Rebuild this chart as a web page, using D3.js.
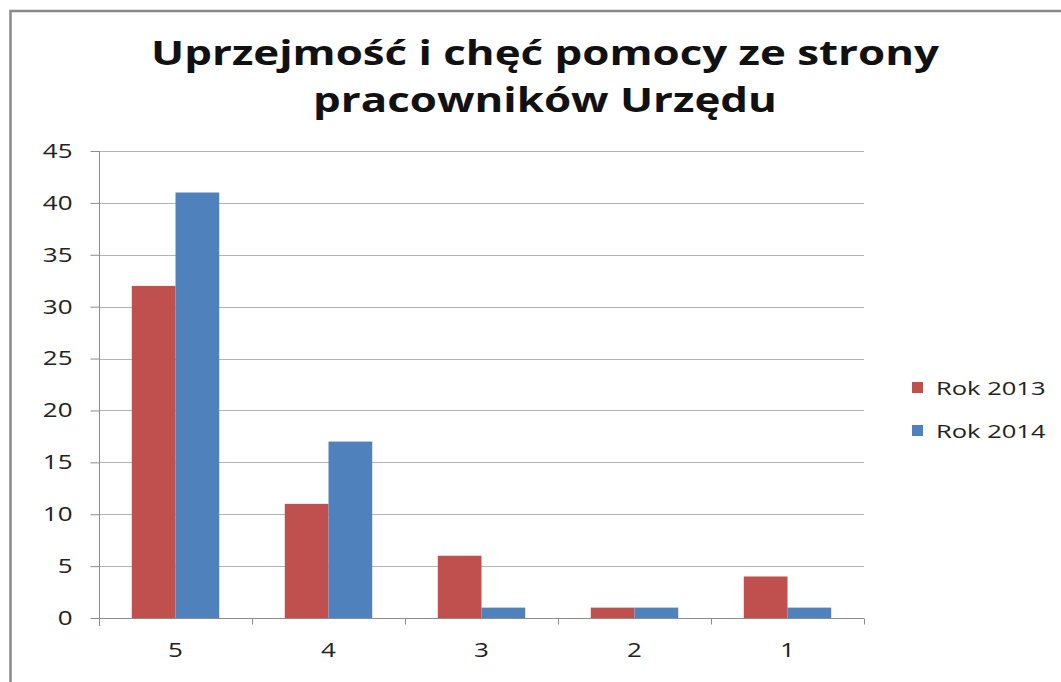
<!DOCTYPE html>
<html>
<head>
<meta charset="utf-8">
<script src="https://cdn.jsdelivr.net/npm/d3@7"></script>
<style>
  body { margin: 0; background: #fff; }
  svg { display: block; font-family: "Open Sans", sans-serif; }
  .grid line { stroke: #b4b4b4; stroke-width: 1; }
  .axis path, .axis line { stroke: #8c8c8c; }
  .axis text { fill: #222; font-size: 20px; font-family: "Open Sans", sans-serif; }
</style>
</head>
<body>
<script>
// chart data
var categories = ['5', '4', '3', '2', '1'];
var seriesNames = ['Rok 2013', 'Rok 2014'];
var rok2013 = [32, 11, 6, 1, 4];
var rok2014 = [41, 17, 1, 1, 1];
var yTicks = [0, 5, 10, 15, 20, 25, 30, 35, 40, 45];
var titleLines = ['Uprzejmość i chęć pomocy ze strony', 'pracowników Urzędu'];

var colors = ['#c0504d', '#4f81bd'];
var values = [rok2013, rok2014];

// the source picture has its lettering stretched sideways
var stretch = 1.3;

var width = 1061, height = 682;
var svg = d3.select('body').append('svg')
  .attr('width', width).attr('height', height);

// outer frame of the chart object
svg.append('rect')
  .attr('x', 10.5).attr('y', 11)
  .attr('width', 1100).attr('height', 700)
  .attr('fill', 'none')
  .attr('stroke', '#8a8a8a')
  .attr('stroke-width', 2.5);

var plot = { left: 99, right: 864, top: 151, bottom: 618 };

var x0 = d3.scaleBand().domain(categories)
  .range([plot.left, plot.right]).padding(0);
var x1 = d3.scaleBand().domain(seriesNames)
  .range([0, x0.bandwidth()]).paddingInner(0).paddingOuter(0.75);
var y = d3.scaleLinear().domain([0, 45]).range([plot.bottom, plot.top]);

// gridlines
svg.append('g').attr('class', 'grid')
  .selectAll('line')
  .data(yTicks.filter(d => d > 0)).enter()
  .append('line')
  .attr('x1', plot.left).attr('x2', plot.right)
  .attr('y1', d => Math.round(y(d)) + 0.5)
  .attr('y2', d => Math.round(y(d)) + 0.5);

// bars
var rows = categories.map((c, i) => ({ cat: c, vals: seriesNames.map((s, j) => ({ s: s, v: values[j][i], j: j })) }));

svg.append('g').selectAll('g')
  .data(rows).enter()
  .append('g')
  .attr('transform', d => `translate(${x0(d.cat)},0)`)
  .selectAll('rect')
  .data(d => d.vals).enter()
  .append('rect')
  .attr('x', d => x1(d.s))
  .attr('width', x1.bandwidth())
  .attr('y', d => y(d.v))
  .attr('height', d => y(0) - y(d.v))
  .attr('fill', d => colors[d.j]);

// y axis
var yAxis = svg.append('g').attr('class', 'axis')
  .attr('transform', `translate(${plot.left + 0.5},0)`)
  .call(d3.axisLeft(y).tickValues(yTicks).tickSize(9).tickSizeOuter(0));
yAxis.select('.domain').attr('d', `M0,${plot.top}V${plot.bottom + 8}`);
yAxis.selectAll('.tick text')
  .attr('x', -27 / stretch)
  .attr('transform', `scale(${stretch},1)`);

// x axis
var xAxis = svg.append('g').attr('class', 'axis')
  .attr('transform', `translate(0,${plot.bottom + 0.5})`)
  .call(d3.axisBottom(x0).tickSize(0).tickPadding(24));
xAxis.select('.domain').attr('d', `M${plot.left},0H${plot.right}`);
xAxis.selectAll('.tick text').attr('transform', `scale(${stretch},1)`);
xAxis.selectAll('.boundary')
  .data(categories.concat(['end'])).enter()
  .append('line')
  .attr('class', 'boundary')
  .attr('x1', (d, i) => plot.left + i * x0.step() + 0.5)
  .attr('x2', (d, i) => plot.left + i * x0.step() + 0.5)
  .attr('y1', 0).attr('y2', 6);

// title
svg.append('g')
  .attr('transform', `translate(545,0) scale(1.29,1)`)
  .selectAll('text')
  .data(titleLines).enter()
  .append('text')
  .attr('x', 0).attr('y', (d, i) => 65 + i * 47)
  .attr('text-anchor', 'middle')
  .style('font-size', '34px')
  .style('font-weight', 'bold')
  .style('fill', '#111')
  .text(d => d);

// legend
var legend = svg.append('g').selectAll('g')
  .data(seriesNames).enter()
  .append('g')
  .attr('transform', (d, i) => `translate(912,${382 + i * 43})`);
legend.append('rect')
  .attr('width', 11).attr('height', 11)
  .attr('fill', (d, i) => colors[i]);
legend.append('text')
  .attr('x', 24 / 1.38).attr('y', 13)
  .attr('transform', 'scale(1.38,1)')
  .style('font-size', '18.5px')
  .style('fill', '#222')
  .text(d => d);
</script>
</body>
</html>
